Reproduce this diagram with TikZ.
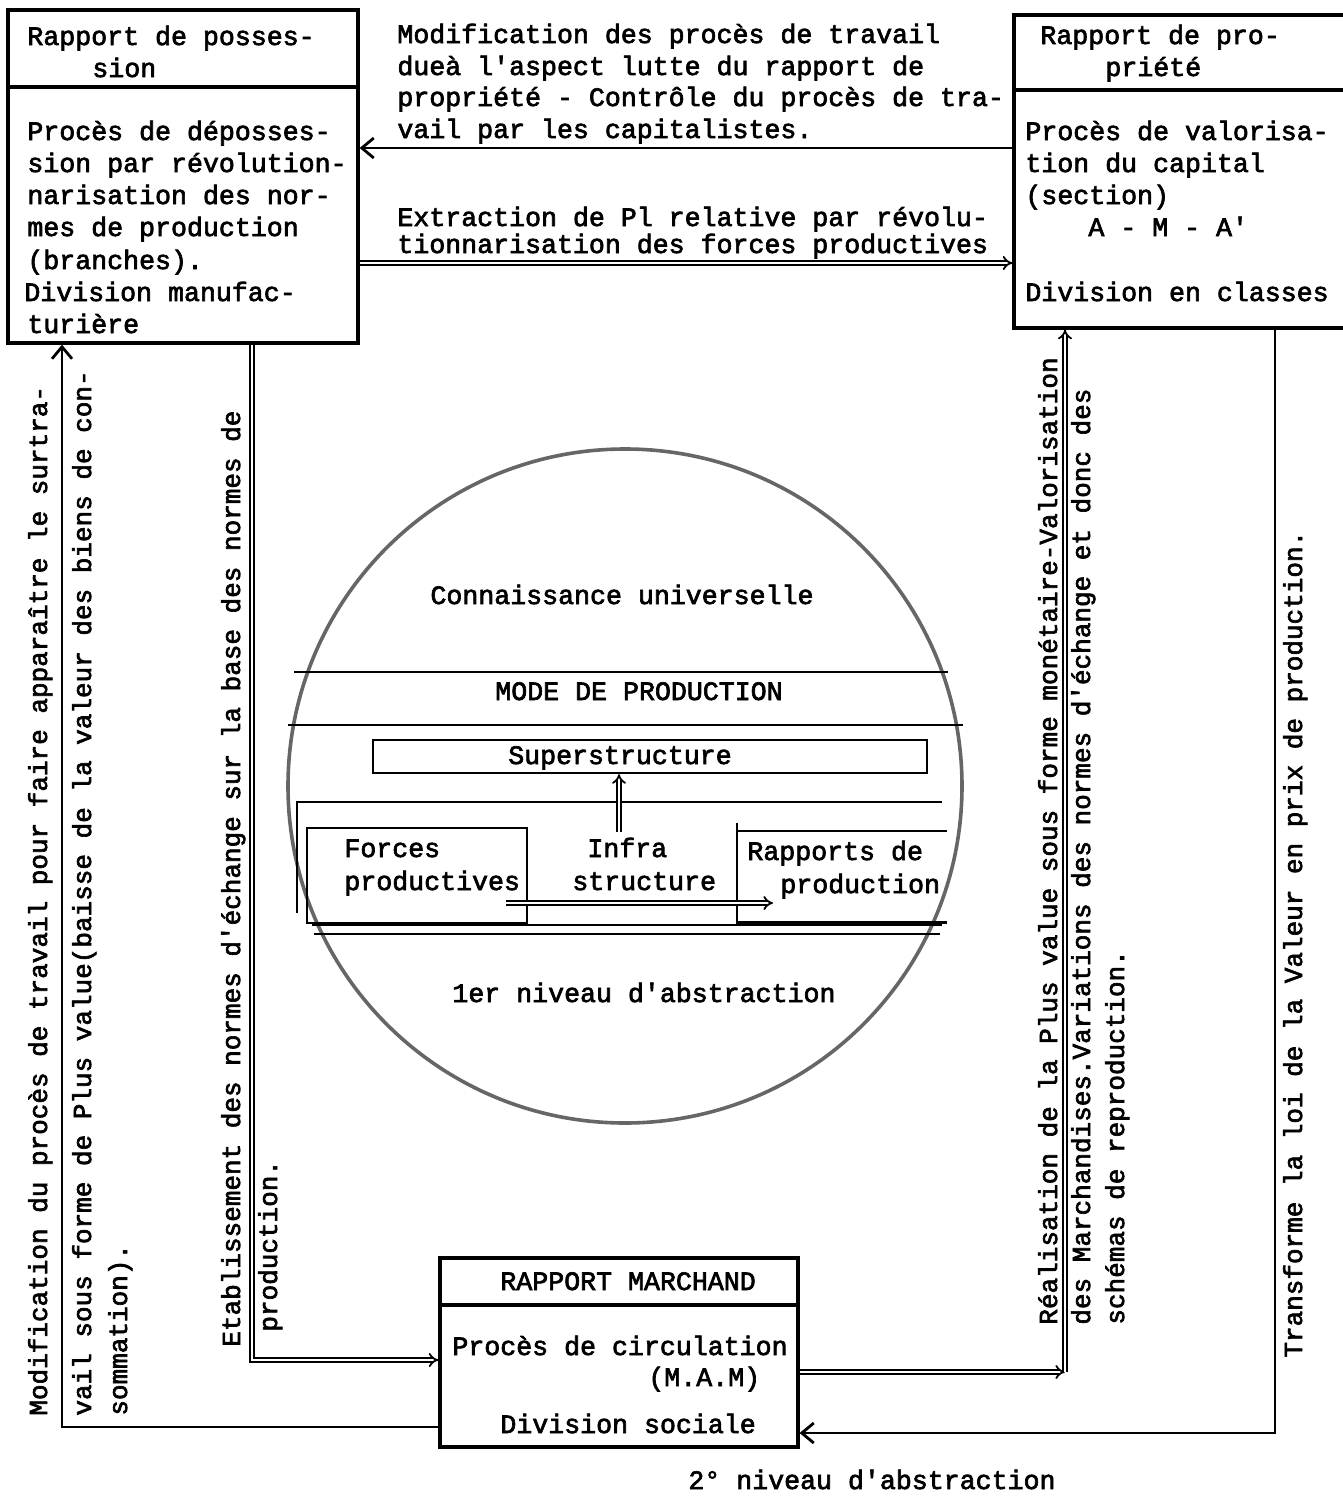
\documentclass[tikz,border=0pt]{standalone}
\usepackage{fontspec}
\setmainfont{Liberation Mono}[Ligatures=TeXOff, FakeBold=2.5]
\usetikzlibrary{arrows.meta,fit}
\begin{document}
\begin{tikzpicture}[x=0.5pt,y=-0.5pt,
  txt/.style={inner sep=0pt, font=\fontsize{13.3}{16}\selectfont},
  tl/.style={txt, anchor=base west},
  tc/.style={txt, anchor=base},
  vtxt/.style={inner sep=0pt, rotate=90, anchor=base west, font=\fontsize{13}{16}\selectfont},
  boxst/.style={draw, line width=1.6pt, inner sep=0pt},
  thinln/.style={line width=1.1pt},
  sarr/.style={line width=1.4pt, -{Straight Barb[length=6pt,width=10pt,line width=1.4pt]}},
  darr/.style={double, double distance=1.4pt, line width=0.9pt, -{Implies[scale=1.5]}},
]
\useasboundingbox (0,0) rectangle (1343,1499);

% ---------- main boxes ----------
\node[boxst, fit={(8,10) (358,343)}] (poss) {};
\node[boxst, fit={(1014,15) (1360,328)}] (prop) {};
\node[boxst, fit={(440,1258) (798,1447)}] (march) {};
\draw[line width=1.6pt] (poss.west |- 0,87) -- (poss.east |- 0,87);
\draw[line width=1.6pt] (prop.west |- 0,90) -- (prop.east |- 0,90);
\draw[line width=1.6pt] (march.west |- 0,1305) -- (march.east |- 0,1305);

% left box text
\node[tl] (p1) at (27,45) {Rapport de posses-};
\node[tl] (p2) at (92,77) {sion};
\node[tl] (p3) at (27,140) {Procès de déposses-};
\node[tl] (p4) at (27,172) {sion par révolution-};
\node[tl] (p5) at (27,204) {narisation des nor-};
\node[tl] (p6) at (27,236) {mes de production};
\node[tl] (p7) at (27,269) {(branches).};
\node[tl] (p8) at (24,301) {Division manufac-};
\node[tl] (p9) at (27,333) {turière};

% right box text
\node[tl] (q1) at (1040,44) {Rapport de pro-};
\node[tl] (q2) at (1105,76) {priété};
\node[tl] (q3) at (1025,140) {Procès de valorisa-};
\node[tl] (q4) at (1025,172) {tion du capital};
\node[tl] (q5) at (1025,204) {(section)};
\node[tl] (q6) at (1088,236) {A - M - A'};
\node[tl] (q7) at (1025,301) {Division en classes};

% bottom box text
\node[tl] (m1) at (500,1290) {RAPPORT MARCHAND};
\node[tl] (m2) at (452,1355) {Procès de circulation};
\node[tl] (m3) at (648,1386) {(M.A.M)};
\node[tl] (m4) at (500,1433) {Division sociale};
\node[tl] (lvl2) at (688,1489) {2° niveau d'abstraction};

% top connector labels
\node[tl] (a1) at (397,43) {Modification des procès de travail};
\node[tl] (a2) at (397,75) {dueà l'aspect lutte du rapport de};
\node[tl] (a3) at (397,106) {propriété - Contrôle du procès de tra-};
\node[tl] (a4) at (397,138) {vail par les capitalistes.};
\node[tl] (b1) at (397,226) {Extraction de Pl relative par révolu-};
\node[tl] (b2) at (397,253) {tionnarisation des forces productives};

% ---------- circle ----------
\node[draw=black!60, line width=1.8pt, circle, minimum size=337pt, inner sep=0pt] (world) at (625,786) {};
\draw[thinln] (294,672) -- (948,672);
\draw[thinln] (288,725) -- (963,725);
\draw[thinln] (312,925) -- (942,925);
\draw[thinln] (314,934) -- (940,934);
\draw[thinln] (297,913) -- (297,802) -- (942,802);

\node[draw, thinln, fit={(373,740) (927,773)}, inner sep=0pt] (super) {};
\node[draw, thinln, fit={(307,828) (527,923)}, inner sep=0pt] (forces) {};
\node[fit={(737,831) (947,922)}, inner sep=0pt] (rapp) {};
\draw[thinln] (rapp.north east) -- (rapp.north west);
\draw[thinln] (rapp.north west |- 0,823) -- (rapp.south west) -- (rapp.south east);

\node[tc] (c1) at (622,604) {Connaissance universelle};
\node[tc] (c2) at (639,700) {MODE DE PRODUCTION};
\node[tc] (c3) at (620,764) {Superstructure};
\node[tl] (c4) at (344,857) {Forces};
\node[tl] (c5) at (344,890) {productives};
\node[tl] (c6) at (587,857) {Infra};
\node[tl] (c7) at (572,890) {structure};
\node[tl] (c8) at (747,860) {Rapports de};
\node[tl] (c9) at (780,893) {production};
\node[tl] (c10) at (452,1002) {1er niveau d'abstraction};

\coordinate (infraFoot) at (619,832);
\draw[darr] (infraFoot) -- (super.south -| infraFoot);
\coordinate (fpA) at (506,903);
\coordinate (fpB) at (773,903);
\draw[darr] (fpA) -- (fpB);

% ---------- connectors ----------
\draw[sarr] (prop.west |- 0,148) -- (poss.east |- 0,148);
\draw[darr] (poss.east |- 0,263) -- (prop.west |- 0,263);
\draw[sarr] (march.west |- 0,1427) -| (poss.south -| 62,0);
\draw[darr] (poss.south -| 252,0) |- (march.west |- 0,1360);
\coordinate (cR) at (1065,1372);
\draw[darr] (march.east |- 0,1372) -- (cR);
\draw[darr] (cR) -- (prop.south -| cR);
\draw[sarr] (prop.south -| 1275,0) |- (march.east |- 0,1433);

% ---------- vertical labels ----------
\node[vtxt] (v1) at (47,1416) {Modification du procès de travail pour faire apparaître le surtra-};
\node[vtxt] (v2) at (91,1416) {vail sous forme de Plus value(baisse de la valeur des biens de con-};
\node[vtxt] (v3) at (127,1416) {sommation).};
\node[vtxt] (v4) at (240,1347) {Etablissement des normes d'échange sur la base des normes de};
\node[vtxt] (v5) at (277,1332) {production.};
\node[vtxt] (v6) at (1057,1325) {Réalisation de la Plus value sous forme monétaire-Valorisation};
\node[vtxt] (v7) at (1090,1325) {des Marchandises.Variations des normes d'échange et donc des};
\node[vtxt] (v8) at (1124,1325) {schémas de reproduction.};
\node[vtxt] (v9) at (1302,1358) {Transforme la loi de la Valeur en prix de production.};
\end{tikzpicture}
\end{document}
